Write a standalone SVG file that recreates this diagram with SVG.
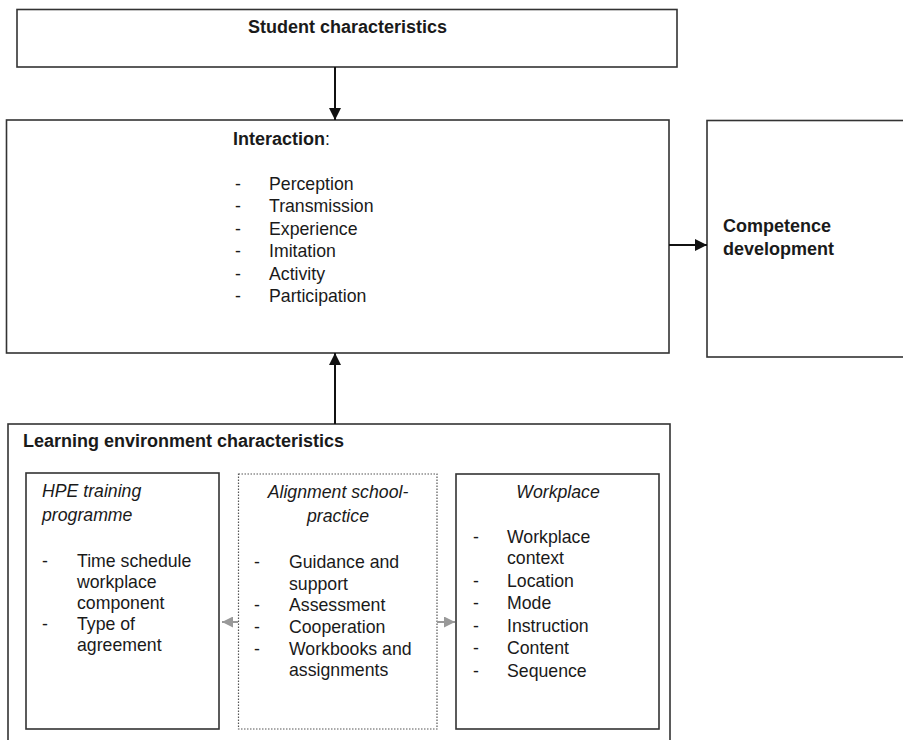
<svg xmlns="http://www.w3.org/2000/svg" width="903" height="740" viewBox="0 0 903 740">
<defs>
<style>
.box{fill:#fff;stroke:#333;stroke-width:1.6}
.dot{fill:#fff;stroke:#555;stroke-width:1.2;stroke-dasharray:1.5 1.5}
text{font-family:"Liberation Sans",Arial,Helvetica,sans-serif;font-size:17.7px;fill:#1a1a1a}
.b{font-weight:bold;font-size:18px}
.i{font-style:italic}
.m{text-anchor:middle}
.ln{stroke:#111;stroke-width:2;fill:none}
.gl{stroke:#999;stroke-width:2;fill:none}
</style>
<marker id="ah" viewBox="0 0 10 10" refX="10" refY="5" markerWidth="12" markerHeight="12" markerUnits="userSpaceOnUse" orient="auto"><path d="M0,0 L10,5 L0,10 z" fill="#111"/></marker>
<marker id="gh" viewBox="0 0 10 10" refX="10" refY="5" markerWidth="11" markerHeight="11" markerUnits="userSpaceOnUse" orient="auto"><path d="M0,0 L10,5 L0,10 z" fill="#999"/></marker>
</defs>
<rect width="903" height="740" fill="#fff"/>

<g id="student">
<rect class="box" x="17" y="9.5" width="660" height="57.5"/>
<text class="b" x="248" y="33">Student characteristics</text>
</g>

<g id="interaction">
<rect class="box" x="6.5" y="120" width="662.5" height="233"/>
<text x="233" y="145"><tspan class="b">Interaction</tspan>:</text>
<text x="235" y="190">-</text><text x="269" y="190">Perception</text>
<text x="235" y="212.4">-</text><text x="269" y="212.4">Transmission</text>
<text x="235" y="234.8">-</text><text x="269" y="234.8">Experience</text>
<text x="235" y="257.2">-</text><text x="269" y="257.2">Imitation</text>
<text x="235" y="279.6">-</text><text x="269" y="279.6">Activity</text>
<text x="235" y="302">-</text><text x="269" y="302">Participation</text>
</g>

<g id="competence">
<rect class="box" x="707" y="120.5" width="210" height="236.5"/>
<text class="b" x="723" y="232">Competence</text>
<text class="b" x="723" y="255">development</text>
</g>

<g id="learning-environment">
<rect class="box" x="8" y="424" width="662" height="330"/>
<text class="b" x="23" y="447">Learning environment characteristics</text>
</g>

<g id="hpe">
<rect class="box" x="26" y="473" width="193" height="256"/>
<text class="i" x="42" y="497">HPE training</text>
<text class="i" x="42" y="521">programme</text>
<text x="42" y="567">-</text><text x="77" y="567">Time schedule</text>
<text x="77" y="588">workplace</text>
<text x="77" y="609">component</text>
<text x="42" y="630">-</text><text x="77" y="630">Type of</text>
<text x="77" y="651">agreement</text>
</g>

<g id="alignment">
<rect class="dot" x="238.5" y="474" width="198.5" height="255"/>
<text class="i m" x="338" y="498">Alignment school-</text>
<text class="i m" x="338" y="522">practice</text>
<text x="254" y="568.3">-</text><text x="289" y="568.3">Guidance and</text>
<text x="289" y="589.5">support</text>
<text x="254" y="610.8">-</text><text x="289" y="610.8">Assessment</text>
<text x="254" y="632.8">-</text><text x="289" y="632.8">Cooperation</text>
<text x="254" y="654.8">-</text><text x="289" y="654.8">Workbooks and</text>
<text x="289" y="675.5">assignments</text>
</g>

<g id="workplace">
<rect class="box" x="456" y="474" width="203" height="255"/>
<text class="i m" x="558" y="498">Workplace</text>
<text x="473" y="543.3">-</text><text x="507" y="543.3">Workplace</text>
<text x="507" y="564.3">context</text>
<text x="473" y="586.7">-</text><text x="507" y="586.7">Location</text>
<text x="473" y="608.5">-</text><text x="507" y="608.5">Mode</text>
<text x="473" y="631.8">-</text><text x="507" y="631.8">Instruction</text>
<text x="473" y="654">-</text><text x="507" y="654">Content</text>
<text x="473" y="676.7">-</text><text x="507" y="676.7">Sequence</text>
</g>

<g id="connectors">
<line class="ln" x1="335" y1="67" x2="335" y2="120" marker-end="url(#ah)"/>
<line class="ln" x1="335" y1="424" x2="335" y2="353" marker-end="url(#ah)"/>
<line class="ln" x1="669" y1="245" x2="707" y2="245" marker-end="url(#ah)"/>
<line class="gl" x1="238" y1="622" x2="222" y2="622" marker-end="url(#gh)"/>
<line class="gl" x1="437" y1="622" x2="455" y2="622" marker-end="url(#gh)"/>
</g>
</svg>
